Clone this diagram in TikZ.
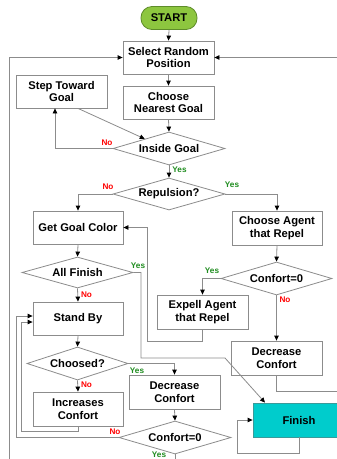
\documentclass[tikz,border=0pt]{standalone}
\usepackage{fontspec}
\setmainfont{Liberation Sans}
\usetikzlibrary{shapes.geometric,arrows.meta,calc}
\definecolor{lineg}{HTML}{8C8C8C}
\definecolor{startg}{HTML}{8DC63F}
\definecolor{startb}{HTML}{5E8C2A}
\definecolor{tealf}{HTML}{00CCCC}
\definecolor{tealb}{HTML}{3A9A9A}
\definecolor{yesg}{HTML}{1E8C1E}
\definecolor{nor}{HTML}{FF0000}
\begin{document}
\begin{tikzpicture}[x=1pt,y=-1pt,
  every node/.style={font=\fontsize{11.2}{12.5}\selectfont\bfseries},
  box/.style={draw=lineg,line width=0.8pt,fill=white,minimum width=91pt,minimum height=33pt,inner sep=0pt,align=center},
  dia/.style={diamond,draw=lineg,line width=0.8pt,fill=white,inner sep=0pt,aspect=3.4,minimum width=112pt,minimum height=33pt},
  arr/.style={draw=lineg,line width=0.8pt,-{Triangle[length=5pt,width=4.5pt,color=black,fill=black]}},
  ln/.style={draw=lineg,line width=0.8pt},
  yes/.style={font=\fontsize{8.2}{9}\selectfont\bfseries,text=yesg,inner sep=0pt},
  no/.style={font=\fontsize{8.2}{9}\selectfont\bfseries,text=nor,inner sep=0pt}
]
\clip (0,0) rectangle (337,459);
\fill[white] (0,0) rectangle (337,459);

% nodes
\node[box,draw=startb,fill=startg,rounded corners=11pt,minimum width=56pt,minimum height=23pt] (start) at (169,18) {START};
\node[box] (select) at (168.5,57.5) {Select Random\\Position};
\node[box] (nearest) at (168.5,102.5) {Choose\\Nearest Goal};
\node[box] (step) at (61.5,91.5) {Step Toward\\Goal};
\node[dia] (inside) at (169,148.5) {Inside Goal};
\node[dia,minimum height=32pt] (repul) at (169,194) {Repulsion?};
\node[box,minimum width=90pt] (getcolor) at (78,227.5) {Get Goal Color};
\node[box,minimum width=90pt,minimum height=34pt] (chooseag) at (277,228) {Choose Agent\\that Repel};
\node[dia,minimum width=111pt,minimum height=31pt] (allfin) at (77.5,272.5) {All Finish};
\node[dia,minimum width=111pt] (confR) at (276.5,278.5) {Confort=0};
\node[box,minimum height=34pt] (expell) at (202.5,312) {Expell Agent\\that Repel};
\node[box,minimum width=90pt] (standby) at (78,318.5) {Stand By};
\node[box,minimum height=34pt] (decR) at (276.5,358) {Decrease\\Confort};
\node[dia,minimum width=101pt] (choosed) at (77.5,363.5) {Choosed?};
\node[box,minimum height=34pt] (decM) at (174.5,392) {Decrease\\Confort};
\node[box,minimum width=90pt,minimum height=34pt] (incr) at (78,409) {Increases\\Confort};
\node[box,draw=tealb,fill=tealf,minimum width=92pt,minimum height=34pt] (finish) at (299,420) {Finish};
\node[dia] (confB) at (175,437.5) {Confort=0};

% free ends
\coordinate (bl) at (9,459);
\coordinate (rt) at (337,57.5);
\coordinate (e1) at (147,341);
\coordinate (a1) at (141,358);
\coordinate (a2) at (225,358);
\coordinate (dr) at (337,391);
\coordinate (f1) at (237,453);
\coordinate (i1) at (21,431);
\coordinate (c1) at (16,437.5);
\coordinate (bb) at (175,459);

% connectors
\draw[arr] (start.south) -- (select.north);
\draw[arr] (select.south) -- (nearest.north);
\draw[arr] (nearest.south) -- (inside.north);
\draw[arr] (bl) |- (select.west);
\draw[arr] (rt) -- (select.east);
\draw[arr] ([xshift=16.5pt]step.south) -- ($(inside.north)!0.43!(inside.west)$);
\draw[arr] (inside.west) -| ([xshift=-6.5pt]step.south);
\draw[arr] (inside.south) -- (repul.north);
\draw[arr] (repul.west) -| (getcolor.north);
\draw[arr] (repul.east) -| (chooseag.north);
\draw[arr] (getcolor.south) -- (allfin.north);
\draw[arr] (chooseag.south) -- (confR.north);
\draw[arr] (confR.west) -| (expell.north);
\draw[arr] (confR.south) -- (decR.north);
\draw[arr] (expell.south) |- (e1) |- (getcolor.east);
\draw[arr] (allfin.east) -| (a1) -- (a2) -- ([xshift=-34pt]finish.north);
\draw[ln] (decR.south) |- (dr);
\draw[arr] (finish.south) |- (f1) |- (finish.west);
\draw[arr] (allfin.south) -- (standby.north);
\draw[arr] (standby.south) -- (choosed.north);
\draw[arr] (choosed.east) -| (decM.north);
\draw[arr] (choosed.south) -- (incr.north);
\draw[arr] (decM.south) -- (confB.north);
\draw[arr] (incr.south) |- (i1) |- ([yshift=-3.5pt]standby.west);
\draw[arr] (confB.west) -- (c1) |- ([yshift=2.5pt]standby.west);
\draw[ln] (confB.south) -- (bb);

% labels
\node[no] (l1) at (107,143) {No};
\node[yes] (l2) at (179.5,170) {Yes};
\node[no] (l3) at (108,187) {No};
\node[yes] (l4) at (232,185) {Yes};
\node[yes] (l5) at (138,266) {Yes};
\node[yes] (l6) at (212,271) {Yes};
\node[no] (l7) at (285,300) {No};
\node[no] (l8) at (86.5,295) {No};
\node[yes] (l9) at (137,371) {Yes};
\node[no] (l10) at (86.5,385) {No};
\node[no] (l11) at (115,432) {No};
\node[yes] (l12) at (159,455) {Yes};
\end{tikzpicture}
\end{document}
